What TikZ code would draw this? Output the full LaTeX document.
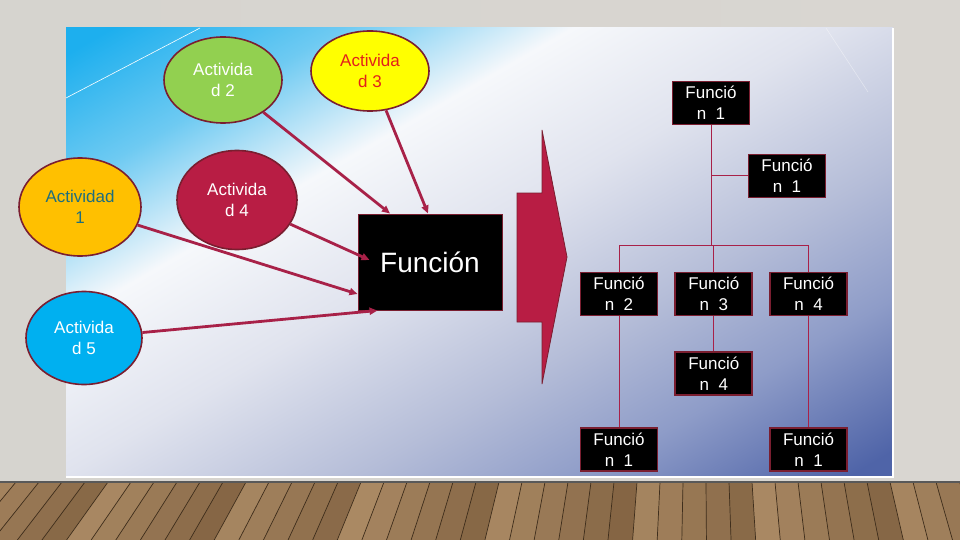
\documentclass[tikz,border=0pt]{standalone}
\usepackage{fontspec}
\setmainfont{Liberation Sans}
\usetikzlibrary{arrows.meta,positioning,shapes.geometric}
\definecolor{wallL}{HTML}{D6D4CF}
\definecolor{wallM}{HTML}{E9E7E3}
\definecolor{wallR}{HTML}{D9D6D1}
\definecolor{panelcyan}{HTML}{1DAFEE}
\definecolor{panellight}{HTML}{6ECAF2}
\definecolor{panelwhite}{HTML}{F6F8FB}
\definecolor{panelmid}{HTML}{E0E3EE}
\definecolor{panelgray}{HTML}{B5BDD8}
\definecolor{panelslate}{HTML}{8E9CC8}
\definecolor{panelblue}{HTML}{4F64A8}
\definecolor{maroonline}{HTML}{7A1E30}
\definecolor{crimson}{HTML}{B81D44}
\definecolor{arrowred}{HTML}{A82148}
\definecolor{actorange}{HTML}{FFC000}
\definecolor{actgreen}{HTML}{92D050}
\definecolor{actyellow}{HTML}{FFFF00}
\definecolor{actblue}{HTML}{00B0F0}
\definecolor{tealtext}{HTML}{1F6E7E}
\definecolor{redtext}{HTML}{E3201B}
\definecolor{woodA}{HTML}{6A4C2E}
\definecolor{woodB}{HTML}{C09E76}
\pgfdeclarehorizontalshading{panelshade}{100bp}{color(0bp)=(panelcyan); color(27bp)=(panelcyan); color(34bp)=(panellight); color(41bp)=(panelwhite); color(49bp)=(panelmid); color(58bp)=(panelgray); color(65bp)=(panelslate); color(73bp)=(panelblue); color(100bp)=(panelblue)}

\begin{document}
\begin{tikzpicture}[x=1pt, y=-1pt,
  font=\fontsize{17}{21}\selectfont,
  activity/.style={ellipse, draw=maroonline, line width=1.6pt, align=center, inner sep=0pt},
  funcbox/.style={draw=maroonline, fill=black, line width=1.8pt, text=white, align=center,
    minimum width=77pt, minimum height=43pt, inner sep=0pt},
  feed/.style={-{Triangle[length=8pt,width=7pt]}, line width=2.8pt, draw=arrowred},
  branch/.style={line width=1pt, draw=arrowred}
]
\useasboundingbox (0,0) rectangle (960,540);
% wall and floor
\shade[left color=wallL, middle color=wallM, right color=wallR] (0,0) rectangle (960,482);
\fill[woodA] (0,482) rectangle (960,540);
\foreach \i in {0,...,42}{
  \pgfmathsetmacro\xa{-30+\i*23}
  \pgfmathsetmacro\xb{\xa+(\xa-700)*0.07}
  \pgfmathsetmacro\xc{\xa+23}
  \pgfmathsetmacro\xd{\xc+(\xc-700)*0.07}
  \pgfmathtruncatemacro\tone{mod(\i*37,45)+30}
  \fill[woodB!\tone!woodA] (\xa,482) -- (\xc,482) -- (\xd,540) -- (\xb,540) -- cycle;
  \draw[woodA!60!black, line width=0.7pt] (\xa,482) -- (\xb,540);
}
\draw[black!65, line width=1.5pt] (0,482) -- (960,482);
% panel
\begin{scope}
  \clip (66,28) rectangle (893,477);
  \shade[shading=panelshade, shading angle=-60] (65.5,-161.5) rectangle (893.5,666.5);
\end{scope}
\draw[white, line width=1.2pt] (66,477) -- (893,477) -- (893,28);
\draw[white, line width=0.6pt] (66,98) -- (200,28);
\draw[white, opacity=0.4, line width=0.6pt] (826,28) -- (868,92);

% activities
\node[activity, fill=actorange, text=tealtext, minimum width=122pt, minimum height=98pt] (act1) at (80,207) {Actividad\\1};
\node[activity, fill=actgreen, text=white, minimum width=118pt, minimum height=86pt] (act2) at (223,80) {Activida\\d 2};
\node[activity, fill=actyellow, text=redtext, minimum width=118pt, minimum height=80pt] (act3) at (370,71) {Activida\\d 3};
\node[activity, fill=crimson, text=white, minimum width=120pt, minimum height=99pt] (act4) at (237,200) {Activida\\d 4};
\node[activity, fill=actblue, text=white, minimum width=116pt, minimum height=93pt] (act5) at (84,338) {Activida\\d 5};

\node[draw=maroonline, fill=black, line width=1pt, minimum width=144pt, minimum height=96pt,
  text=white, font=\fontsize{28}{32}\selectfont] (func) at (430,262) {Función};

\draw[feed] (act2) -- ([xshift=-40pt]func.north);
\draw[feed] (act3) -- ([xshift=-2pt]func.north);
\draw[feed] (act4) -- ([xshift=12pt,yshift=2pt]func.west);
\draw[feed] (act1) -- ([yshift=-32pt]func.west);
\draw[feed] (act5) -- ([xshift=20pt]func.south west);

% big arrow
\filldraw[fill=crimson, draw=maroonline, line width=0.8pt]
  (517,193) -- (542,193) -- (542,130) -- (567,257) -- (542,384) -- (542,322) -- (517,322) -- cycle;

% functions
\node[funcbox] (f1) at (711,103) {Funció\\n~ 1};
\node[funcbox] (f1r) at (787,176) {Funció\\n~ 1};
\node[funcbox] (f2) at (619,294) {Funció\\n~ 2};
\node[funcbox, right=16pt of f2] (f3) {Funció\\n~ 3};
\node[funcbox, right=16pt of f3] (f4) {Funció\\n~ 4};
\node[funcbox, below=35pt of f3] (f4b) {Funció\\n~ 4};
\node[funcbox, below=111pt of f2] (f1a) {Funció\\n~ 1};
\node[funcbox, below=111pt of f4] (f1c) {Funció\\n~ 1};

\coordinate (bar) at (711,245);
\draw[branch] (f1.south) -- (bar);
\draw[branch] (f1.south |- f1r.west) -- (f1r.west);
\draw[branch] (f2.north |- bar) -- (f4.north |- bar);
\foreach \b in {f2,f3,f4}
  \draw[branch] (\b.north |- bar) -- (\b.north);
\foreach \a/\b in {f2/f1a,f3/f4b,f4/f1c}
  \draw[branch] (\a.south) -- (\b.north);
\end{tikzpicture}
\end{document}
